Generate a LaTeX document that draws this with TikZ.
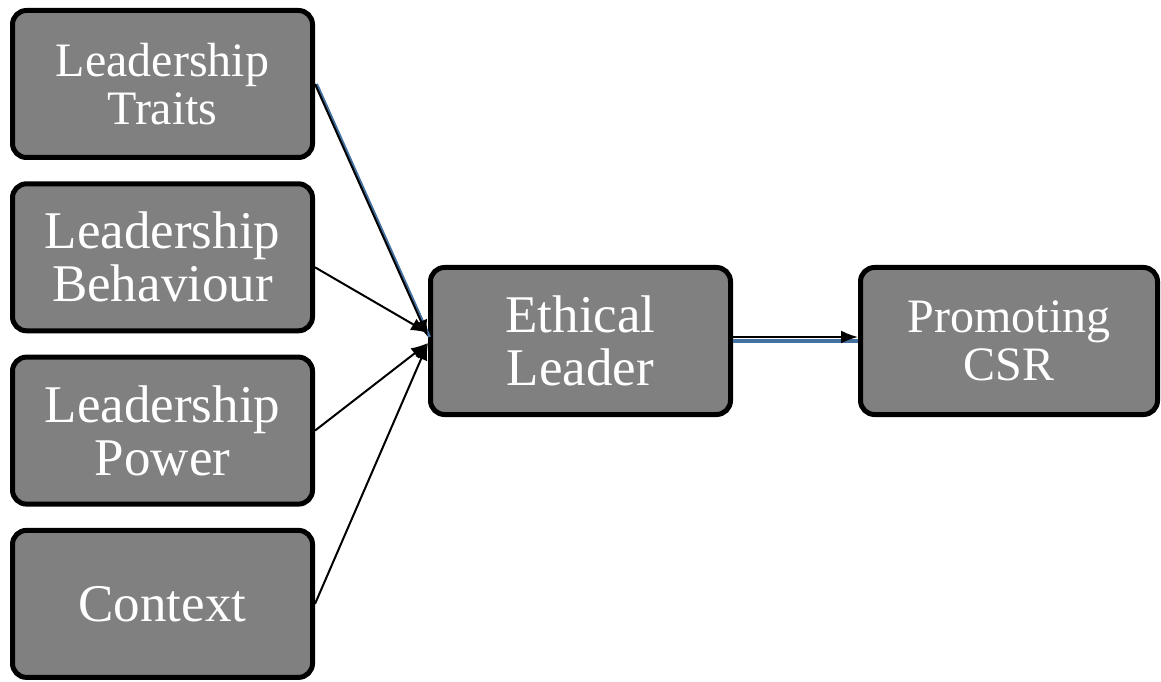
\documentclass[tikz,border=0pt]{standalone}
\usepackage{fontspec}
\setmainfont{Liberation Serif}
\usepackage{tikz}
\usetikzlibrary{arrows.meta}
\definecolor{boxgray}{RGB}{128,128,128}
\definecolor{lineblue}{RGB}{68,114,160}
\tikzset{basic/.style={draw=black,line width=5pt,fill=boxgray,rounded corners=14pt,
                       text=white,align=center,inner sep=0pt,
                       minimum width=300pt,minimum height=147pt}}
\tikzset{bigtext/.style={basic,font=\fontsize{53}{53}\selectfont}}
\tikzset{smalltext/.style={basic,font=\fontsize{48}{48}\selectfont}}
\tikzset{link/.style={draw=black,line width=2pt,-{Latex[length=17pt,width=13pt]}}}
\tikzset{shade/.style={draw=lineblue,line width=3pt}}

\begin{document}
\begin{tikzpicture}[x=1pt,y=1pt]
    \useasboundingbox (0,0) rectangle (1161,681);
    \node[smalltext] (f1) at (162.5,597) {Leadership\\Traits};
    \foreach \h [count=\hi from 2] in {Leadership\\Behaviour,Leadership\\Power,Context}{%
          \node[bigtext] (f\hi) at (162.5,597-\hi*173.3+173.3) {\h};
        }
    \node[bigtext] (lead) at (580.5,340) {Ethical\\Leader};
    \node[smalltext,minimum width=297pt] (csr) at (1009,340) {Promoting\\CSR};
    % inputs
    \draw[shade] ([xshift=1.5pt]f1.east) -- ([xshift=1.5pt,yshift=4pt]lead.west);
    \draw[link] (f1.east) -- ([yshift=4pt]lead.west);
    \draw[link] ([yshift=-10pt]f2.east) -- ([yshift=8pt]lead.west);
    \foreach \hi in {3,4}{%
          \draw[link] (f\hi.east) -- ([yshift=-2pt]lead.west);
        }
    % output
    \draw[shade,line width=4pt] (lead.east) -- (csr.west);
    \draw[link] ([yshift=4pt]lead.east) -- ([yshift=4pt]csr.west);
\end{tikzpicture}
\end{document}
